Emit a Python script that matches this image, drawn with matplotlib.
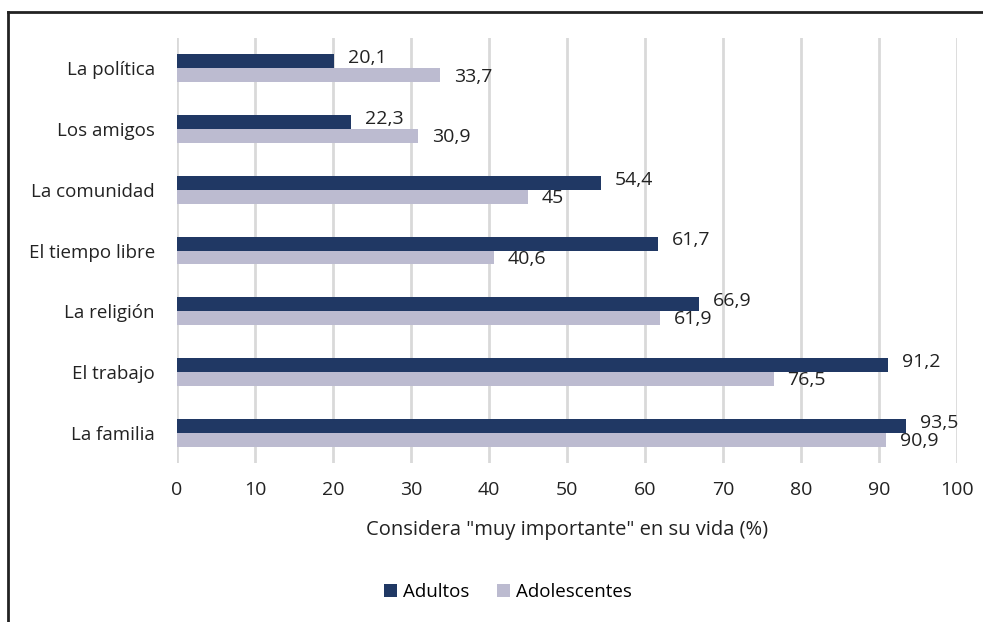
import matplotlib.pyplot as plt
import numpy as np

categories = ['La familia', 'El trabajo', 'La religión', 'El tiempo libre',
              'La comunidad', 'Los amigos', 'La política']
adultos = [93.5, 91.2, 66.9, 61.7, 54.4, 22.3, 20.1]
adolescentes = [90.9, 76.5, 61.9, 40.6, 45, 30.9, 33.7]
xticks = list(range(0, 101, 10))

DARK = '#203864'
LIGHT = '#BCBBD0'
TXT = '#222222'

plt.rcParams['font.family'] = ['Open Sans', 'DejaVu Sans']


def fmt(v):
    s = f'{v:g}'
    return s.replace('.', ',')


def main():
    fig = plt.figure(figsize=(9.83, 6.22), dpi=100)
    ax = fig.add_axes([177 / 983, 1 - 463 / 622, 780 / 983, 425 / 622])

    y = np.arange(len(categories))
    h = 0.23
    ax.barh(y + h / 2, adultos, height=h, color=DARK, label='Adultos', zorder=3)
    ax.barh(y - h / 2, adolescentes, height=h, color=LIGHT, label='Adolescentes', zorder=3)

    for yi, a, b in zip(y, adultos, adolescentes):
        ax.annotate(fmt(a), (a, yi + h / 2 + 0.05), xytext=(10, 0), textcoords='offset points',
                    va='center', ha='left', fontsize=14, color=TXT)
        ax.annotate(fmt(b), (b, yi - h / 2 - 0.02), xytext=(10, 0), textcoords='offset points',
                    va='center', ha='left', fontsize=14, color=TXT)

    ax.set_xlim(0, 100)
    ax.set_ylim(-0.5, len(categories) - 0.5)
    ax.set_xticks(xticks)
    ax.set_xticklabels([str(t) for t in xticks], fontsize=14, color=TXT)
    ax.set_yticks(y)
    ax.set_yticklabels(categories, fontsize=13.5, color=TXT)
    ax.tick_params(axis='y', length=0, pad=16)
    ax.tick_params(axis='x', length=0, pad=13)
    ax.grid(axis='x', color='#D9D9D9', linewidth=2, zorder=0)
    for s in ax.spines.values():
        s.set_visible(False)
    ax.set_xlabel('Considera "muy importante" en su vida (%)', fontsize=14.5,
                  color=TXT, labelpad=15)

    fig.legend(loc='center', bbox_to_anchor=(508 / 983, 1 - 592 / 622), ncol=2,
               frameon=False, fontsize=13.5, handlelength=0.7, handleheight=0.7,
               columnspacing=1.5, handletextpad=0.3)

    # border of the chart area (cut off at right and bottom)
    fig.add_artist(plt.Line2D([8 / 983, 1], [1 - 12 / 622, 1 - 12 / 622],
                              color=TXT, linewidth=2, transform=fig.transFigure))
    fig.add_artist(plt.Line2D([8 / 983, 8 / 983], [0, 1 - 12 / 622],
                              color=TXT, linewidth=2, transform=fig.transFigure))

    fig.savefig('out.png', dpi=100)
    plt.close(fig)


if __name__ == '__main__':
    main()
